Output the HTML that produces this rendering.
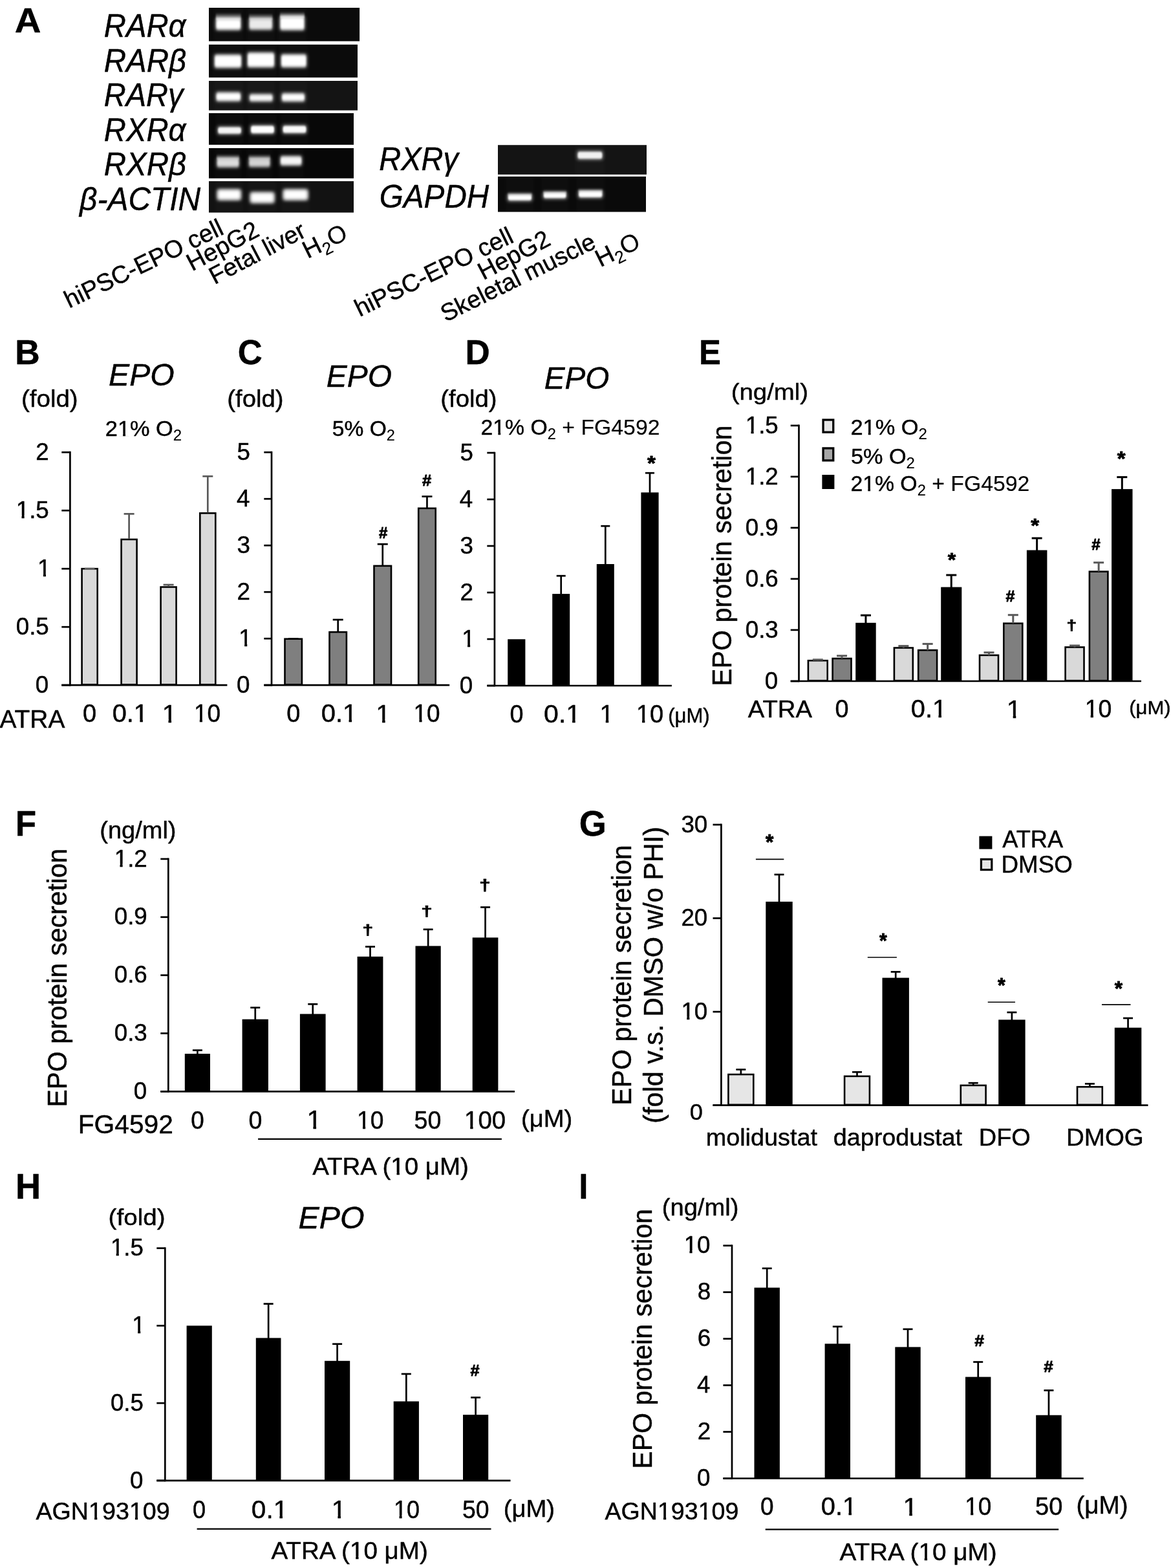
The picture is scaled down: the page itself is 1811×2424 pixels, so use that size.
<!DOCTYPE html>
<html lang="en">
<head>
<meta charset="utf-8">
<title>Figure</title>
<style>
html,body{margin:0;padding:0;background:#fff;}
body{width:1811px;height:2424px;overflow:hidden;}
svg{display:block;font-family:"Liberation Sans", sans-serif;}
text{white-space:pre;stroke:#000;stroke-width:0.45px;vector-effect:non-scaling-stroke;stroke-linejoin:round;}
</style>
</head>
<body>
<svg width="1811" height="2424" viewBox="0 0 1811 2424">
<defs>
<filter id="b1" x="-30%" y="-60%" width="160%" height="220%"><feGaussianBlur stdDeviation="1.7 1.9"/></filter>
<filter id="b2" x="-30%" y="-60%" width="160%" height="220%"><feGaussianBlur stdDeviation="1.2 1.4"/></filter>
<filter id="b3" x="-30%" y="-80%" width="160%" height="260%"><feGaussianBlur stdDeviation="2.8"/></filter>
<filter id="b4" x="-30%" y="-80%" width="160%" height="260%"><feGaussianBlur stdDeviation="2.6 2.9"/></filter>
<linearGradient id="sm" x1="0" y1="0" x2="0" y2="1"><stop offset="0" stop-color="#fff" stop-opacity="0"/><stop offset="0.55" stop-color="#fff" stop-opacity="0.55"/><stop offset="1" stop-color="#fff" stop-opacity="1"/></linearGradient>
</defs>
<rect width="1811" height="2424" fill="#fff"/>
<clipPath id="g1"><rect x="323" y="12" width="233.10" height="51.70"/></clipPath>
<rect x="323.00" y="12.00" width="233.10" height="51.70" fill="#0b0b0b"/>
<g clip-path="url(#g1)">
<rect x="330.2" y="12.0" width="46.0" height="51.7" fill="#fff" opacity="0.02" filter="url(#b3)"/>
<rect x="333.7" y="19.5" width="39.0" height="12.0" rx="2" fill="url(#sm)" opacity="0.85" filter="url(#b2)"/>
<rect x="332.7" y="27.5" width="41.0" height="20.0" rx="4" fill="#fff" opacity="0.45" filter="url(#b3)"/>
<rect x="334.4" y="29.7" width="37.6" height="15.6" rx="3.5" fill="#fff" opacity="1.00" filter="url(#b1)"/>
<rect x="381.5" y="12.0" width="43.5" height="51.7" fill="#fff" opacity="0.02" filter="url(#b3)"/>
<rect x="385.0" y="20.5" width="36.5" height="11.0" rx="2" fill="url(#sm)" opacity="0.73" filter="url(#b2)"/>
<rect x="384.0" y="27.5" width="38.5" height="19.8" rx="4" fill="#fff" opacity="0.39" filter="url(#b3)"/>
<rect x="385.7" y="29.7" width="35.1" height="15.4" rx="3.5" fill="#fff" opacity="0.86" filter="url(#b1)"/>
<rect x="429.4" y="12.0" width="45.1" height="51.7" fill="#fff" opacity="0.02" filter="url(#b3)"/>
<rect x="432.9" y="18.0" width="38.1" height="10.5" rx="2" fill="url(#sm)" opacity="0.85" filter="url(#b2)"/>
<rect x="431.9" y="24.5" width="40.1" height="23.3" rx="4" fill="#fff" opacity="0.45" filter="url(#b3)"/>
<rect x="433.6" y="26.7" width="36.7" height="18.9" rx="3.5" fill="#fff" opacity="1.00" filter="url(#b1)"/>
</g>
<clipPath id="g2"><rect x="323" y="68.9" width="230.00" height="50.90"/></clipPath>
<rect x="323.00" y="68.90" width="230.00" height="50.90" fill="#0b0b0b"/>
<g clip-path="url(#g2)">
<rect x="328.0" y="68.9" width="49.0" height="50.9" fill="#fff" opacity="0.02" filter="url(#b3)"/>
<rect x="330.5" y="83.3" width="44.0" height="22.7" rx="4" fill="#fff" opacity="0.45" filter="url(#b3)"/>
<rect x="332.2" y="85.5" width="40.6" height="18.3" rx="3.5" fill="#fff" opacity="1.00" filter="url(#b1)"/>
<rect x="379.0" y="68.9" width="49.0" height="50.9" fill="#fff" opacity="0.02" filter="url(#b3)"/>
<rect x="381.5" y="80.0" width="44.0" height="25.2" rx="4" fill="#fff" opacity="0.45" filter="url(#b3)"/>
<rect x="383.2" y="82.2" width="40.6" height="20.8" rx="3.5" fill="#fff" opacity="1.00" filter="url(#b1)"/>
<rect x="431.0" y="68.9" width="46.6" height="50.9" fill="#fff" opacity="0.02" filter="url(#b3)"/>
<rect x="433.5" y="82.8" width="41.6" height="22.4" rx="4" fill="#fff" opacity="0.45" filter="url(#b3)"/>
<rect x="435.2" y="85.0" width="38.2" height="18.0" rx="3.5" fill="#fff" opacity="1.00" filter="url(#b1)"/>
</g>
<clipPath id="g3"><rect x="323" y="125" width="230.00" height="45.60"/></clipPath>
<rect x="323.00" y="125.00" width="230.00" height="45.60" fill="#141414"/>
<g clip-path="url(#g3)">
<rect x="330.5" y="125.0" width="45.5" height="45.6" fill="#fff" opacity="0.02" filter="url(#b3)"/>
<rect x="333.0" y="141.5" width="40.5" height="16.0" rx="4" fill="#fff" opacity="0.45" filter="url(#b3)"/>
<rect x="334.7" y="143.7" width="37.1" height="11.6" rx="3.5" fill="#fff" opacity="1.00" filter="url(#b1)"/>
<rect x="382.0" y="125.0" width="43.6" height="45.6" fill="#fff" opacity="0.02" filter="url(#b3)"/>
<rect x="384.5" y="144.2" width="38.6" height="13.8" rx="4" fill="#fff" opacity="0.43" filter="url(#b3)"/>
<rect x="386.2" y="146.4" width="35.2" height="9.4" rx="3.5" fill="#fff" opacity="0.95" filter="url(#b1)"/>
<rect x="432.0" y="125.0" width="43.0" height="45.6" fill="#fff" opacity="0.02" filter="url(#b3)"/>
<rect x="434.5" y="143.0" width="38.0" height="15.0" rx="4" fill="#fff" opacity="0.45" filter="url(#b3)"/>
<rect x="436.2" y="145.2" width="34.6" height="10.6" rx="3.5" fill="#fff" opacity="1.00" filter="url(#b1)"/>
</g>
<clipPath id="g4"><rect x="323" y="174.9" width="224.00" height="48.90"/></clipPath>
<rect x="323.00" y="174.90" width="224.00" height="48.90" fill="#080808"/>
<g clip-path="url(#g4)">
<rect x="333.0" y="174.9" width="44.0" height="48.9" fill="#fff" opacity="0.02" filter="url(#b3)"/>
<rect x="335.5" y="194.5" width="39.0" height="14.3" rx="4" fill="#fff" opacity="0.42" filter="url(#b3)"/>
<rect x="337.2" y="196.7" width="35.6" height="9.9" rx="3.5" fill="#fff" opacity="0.93" filter="url(#b2)"/>
<rect x="384.0" y="174.9" width="44.0" height="48.9" fill="#fff" opacity="0.02" filter="url(#b3)"/>
<rect x="386.5" y="192.5" width="39.0" height="15.5" rx="4" fill="#fff" opacity="0.45" filter="url(#b3)"/>
<rect x="388.2" y="194.7" width="35.6" height="11.1" rx="3.5" fill="#fff" opacity="1.00" filter="url(#b2)"/>
<rect x="433.5" y="174.9" width="44.1" height="48.9" fill="#fff" opacity="0.02" filter="url(#b3)"/>
<rect x="436.0" y="192.5" width="39.1" height="15.0" rx="4" fill="#fff" opacity="0.44" filter="url(#b3)"/>
<rect x="437.7" y="194.7" width="35.7" height="10.6" rx="3.5" fill="#fff" opacity="0.97" filter="url(#b2)"/>
</g>
<clipPath id="g5"><rect x="323" y="229" width="224.00" height="46.70"/></clipPath>
<rect x="323.00" y="229.00" width="224.00" height="46.70" fill="#070707"/>
<g clip-path="url(#g5)">
<rect x="331.5" y="229.0" width="42.1" height="46.7" fill="#fff" opacity="0.02" filter="url(#b3)"/>
<rect x="335.0" y="238.0" width="35.1" height="9.2" rx="2" fill="url(#sm)" opacity="0.66" filter="url(#b2)"/>
<rect x="334.0" y="243.2" width="37.1" height="16.8" rx="4" fill="#fff" opacity="0.35" filter="url(#b3)"/>
<rect x="335.7" y="245.4" width="33.7" height="12.4" rx="3.5" fill="#fff" opacity="0.78" filter="url(#b1)"/>
<rect x="381.0" y="229.0" width="40.6" height="46.7" fill="#fff" opacity="0.02" filter="url(#b3)"/>
<rect x="384.5" y="238.0" width="33.6" height="9.2" rx="2" fill="url(#sm)" opacity="0.63" filter="url(#b2)"/>
<rect x="383.5" y="243.2" width="35.6" height="16.2" rx="4" fill="#fff" opacity="0.33" filter="url(#b3)"/>
<rect x="385.2" y="245.4" width="32.2" height="11.8" rx="3.5" fill="#fff" opacity="0.74" filter="url(#b1)"/>
<rect x="429.8" y="229.0" width="40.6" height="46.7" fill="#fff" opacity="0.02" filter="url(#b3)"/>
<rect x="432.3" y="240.0" width="35.6" height="17.0" rx="4" fill="#fff" opacity="0.42" filter="url(#b3)"/>
<rect x="434.0" y="242.2" width="32.2" height="12.6" rx="3.5" fill="#fff" opacity="0.93" filter="url(#b1)"/>
</g>
<clipPath id="g6"><rect x="323" y="280.1" width="224.00" height="48.50"/></clipPath>
<rect x="323.00" y="280.10" width="224.00" height="48.50" fill="#121212"/>
<g clip-path="url(#g6)">
<rect x="332.5" y="280.1" width="43.5" height="48.5" fill="#fff" opacity="0.02" filter="url(#b3)"/>
<rect x="335.0" y="291.5" width="38.5" height="19.0" rx="4" fill="#fff" opacity="0.45" filter="url(#b3)"/>
<rect x="336.7" y="293.7" width="35.1" height="14.6" rx="3.5" fill="#fff" opacity="1.00" filter="url(#b4)"/>
<rect x="383.5" y="280.1" width="44.2" height="48.5" fill="#fff" opacity="0.02" filter="url(#b3)"/>
<rect x="386.0" y="296.0" width="39.2" height="19.0" rx="4" fill="#fff" opacity="0.45" filter="url(#b3)"/>
<rect x="387.7" y="298.2" width="35.8" height="14.6" rx="3.5" fill="#fff" opacity="1.00" filter="url(#b4)"/>
<rect x="434.5" y="280.1" width="45.1" height="48.5" fill="#fff" opacity="0.02" filter="url(#b3)"/>
<rect x="437.0" y="291.5" width="40.1" height="19.0" rx="4" fill="#fff" opacity="0.45" filter="url(#b3)"/>
<rect x="438.7" y="293.7" width="36.7" height="14.6" rx="3.5" fill="#fff" opacity="1.00" filter="url(#b4)"/>
</g>
<clipPath id="g7"><rect x="770" y="224.2" width="230.00" height="45.60"/></clipPath>
<rect x="770.00" y="224.20" width="230.00" height="45.60" fill="#141414"/>
<g clip-path="url(#g7)">
<rect x="889.3" y="224.2" width="46.2" height="45.6" fill="#fff" opacity="0.02" filter="url(#b3)"/>
<rect x="891.8" y="232.5" width="41.2" height="15.0" rx="4" fill="#fff" opacity="0.41" filter="url(#b3)"/>
<rect x="893.5" y="234.7" width="37.8" height="10.6" rx="3.5" fill="#fff" opacity="0.90" filter="url(#b2)"/>
</g>
<clipPath id="g8"><rect x="770" y="272.9" width="229.00" height="54.70"/></clipPath>
<rect x="770.00" y="272.90" width="229.00" height="54.70" fill="#0a0a0a"/>
<g clip-path="url(#g8)">
<rect x="781.6" y="272.9" width="44.6" height="54.7" fill="#fff" opacity="0.02" filter="url(#b3)"/>
<rect x="785.1" y="297.0" width="37.6" height="6.5" rx="2" fill="url(#sm)" opacity="0.85" filter="url(#b2)"/>
<rect x="784.1" y="299.5" width="39.6" height="12.3" rx="4" fill="#fff" opacity="0.45" filter="url(#b3)"/>
<rect x="785.8" y="301.7" width="36.2" height="7.9" rx="3.5" fill="#fff" opacity="1.00" filter="url(#b2)"/>
<rect x="836.6" y="272.9" width="43.1" height="54.7" fill="#fff" opacity="0.02" filter="url(#b3)"/>
<rect x="840.1" y="294.0" width="36.1" height="6.2" rx="2" fill="url(#sm)" opacity="0.85" filter="url(#b2)"/>
<rect x="839.1" y="296.2" width="38.1" height="12.0" rx="4" fill="#fff" opacity="0.45" filter="url(#b3)"/>
<rect x="840.8" y="298.4" width="34.7" height="7.6" rx="3.5" fill="#fff" opacity="1.00" filter="url(#b2)"/>
<rect x="890.9" y="272.9" width="44.6" height="54.7" fill="#fff" opacity="0.02" filter="url(#b3)"/>
<rect x="894.4" y="291.5" width="37.6" height="6.5" rx="2" fill="url(#sm)" opacity="0.85" filter="url(#b2)"/>
<rect x="893.4" y="294.0" width="39.6" height="13.0" rx="4" fill="#fff" opacity="0.45" filter="url(#b3)"/>
<rect x="895.1" y="296.2" width="36.2" height="8.6" rx="3.5" fill="#fff" opacity="1.00" filter="url(#b2)"/>
</g>
<line x1="108.40" y1="697.85" x2="108.40" y2="1060.45" stroke="#000" stroke-width="2.7"/>
<line x1="95.30" y1="1059.10" x2="351.40" y2="1059.10" stroke="#000" stroke-width="2.7"/>
<line x1="95.30" y1="699.20" x2="108.40" y2="699.20" stroke="#000" stroke-width="2.7"/>
<line x1="95.30" y1="789.20" x2="108.40" y2="789.20" stroke="#000" stroke-width="2.7"/>
<line x1="95.30" y1="879.20" x2="108.40" y2="879.20" stroke="#000" stroke-width="2.7"/>
<line x1="95.30" y1="969.20" x2="108.40" y2="969.20" stroke="#000" stroke-width="2.7"/>
<line x1="95.30" y1="1059.10" x2="108.40" y2="1059.10" stroke="#000" stroke-width="2.7"/>
<rect x="126.60" y="879.20" width="24.10" height="179.10" fill="#d9d9d9" stroke="#000" stroke-width="2.6"/>
<line x1="130.85" y1="878.90" x2="146.45" y2="878.90" stroke="#595959" stroke-width="2.4"/>
<rect x="187.60" y="833.90" width="24.00" height="224.40" fill="#d9d9d9" stroke="#000" stroke-width="2.6"/>
<line x1="199.60" y1="833.10" x2="199.60" y2="794.40" stroke="#595959" stroke-width="2.7"/>
<line x1="191.60" y1="794.40" x2="207.60" y2="794.40" stroke="#595959" stroke-width="2.7"/>
<rect x="248.60" y="907.50" width="24.00" height="150.80" fill="#d9d9d9" stroke="#000" stroke-width="2.6"/>
<line x1="260.60" y1="906.70" x2="260.60" y2="904.00" stroke="#595959" stroke-width="2.7"/>
<line x1="252.60" y1="904.00" x2="268.60" y2="904.00" stroke="#595959" stroke-width="2.7"/>
<rect x="309.30" y="793.30" width="24.00" height="265.00" fill="#d9d9d9" stroke="#000" stroke-width="2.6"/>
<line x1="321.30" y1="792.50" x2="321.30" y2="736.30" stroke="#595959" stroke-width="2.7"/>
<line x1="313.30" y1="736.30" x2="329.30" y2="736.30" stroke="#595959" stroke-width="2.7"/>
<line x1="420.00" y1="697.85" x2="420.00" y2="1060.45" stroke="#000" stroke-width="2.7"/>
<line x1="408.30" y1="1059.10" x2="695.20" y2="1059.10" stroke="#000" stroke-width="2.7"/>
<line x1="408.30" y1="699.20" x2="420.00" y2="699.20" stroke="#000" stroke-width="2.7"/>
<line x1="408.30" y1="771.20" x2="420.00" y2="771.20" stroke="#000" stroke-width="2.7"/>
<line x1="408.30" y1="843.20" x2="420.00" y2="843.20" stroke="#000" stroke-width="2.7"/>
<line x1="408.30" y1="915.20" x2="420.00" y2="915.20" stroke="#000" stroke-width="2.7"/>
<line x1="408.30" y1="987.20" x2="420.00" y2="987.20" stroke="#000" stroke-width="2.7"/>
<line x1="408.30" y1="1059.10" x2="420.00" y2="1059.10" stroke="#000" stroke-width="2.7"/>
<rect x="440.50" y="987.70" width="26.40" height="70.60" fill="#7f7f7f" stroke="#000" stroke-width="2.6"/>
<line x1="445.90" y1="987.40" x2="461.50" y2="987.40" stroke="#000" stroke-width="2.2"/>
<rect x="509.50" y="977.10" width="26.40" height="81.20" fill="#7f7f7f" stroke="#000" stroke-width="2.6"/>
<line x1="522.70" y1="976.30" x2="522.70" y2="958.00" stroke="#000" stroke-width="2.7"/>
<line x1="514.70" y1="958.00" x2="530.70" y2="958.00" stroke="#000" stroke-width="2.7"/>
<rect x="578.50" y="874.80" width="26.50" height="183.50" fill="#7f7f7f" stroke="#000" stroke-width="2.6"/>
<line x1="591.75" y1="874.00" x2="591.75" y2="841.20" stroke="#000" stroke-width="2.7"/>
<line x1="583.75" y1="841.20" x2="599.75" y2="841.20" stroke="#000" stroke-width="2.7"/>
<rect x="647.20" y="785.80" width="26.50" height="272.50" fill="#7f7f7f" stroke="#000" stroke-width="2.6"/>
<line x1="660.45" y1="785.00" x2="660.45" y2="767.50" stroke="#000" stroke-width="2.7"/>
<line x1="652.45" y1="767.50" x2="668.45" y2="767.50" stroke="#000" stroke-width="2.7"/>
<line x1="764.90" y1="698.65" x2="764.90" y2="1061.35" stroke="#000" stroke-width="2.7"/>
<line x1="753.30" y1="1060.00" x2="1038.90" y2="1060.00" stroke="#000" stroke-width="2.7"/>
<line x1="753.30" y1="700.00" x2="764.90" y2="700.00" stroke="#000" stroke-width="2.7"/>
<line x1="753.30" y1="772.00" x2="764.90" y2="772.00" stroke="#000" stroke-width="2.7"/>
<line x1="753.30" y1="844.00" x2="764.90" y2="844.00" stroke="#000" stroke-width="2.7"/>
<line x1="753.30" y1="916.00" x2="764.90" y2="916.00" stroke="#000" stroke-width="2.7"/>
<line x1="753.30" y1="988.00" x2="764.90" y2="988.00" stroke="#000" stroke-width="2.7"/>
<line x1="753.30" y1="1060.00" x2="764.90" y2="1060.00" stroke="#000" stroke-width="2.7"/>
<rect x="785.20" y="988.20" width="27.20" height="71.80" fill="#000"/>
<rect x="854.20" y="918.10" width="27.00" height="141.90" fill="#000"/>
<line x1="867.70" y1="918.60" x2="867.70" y2="890.20" stroke="#000" stroke-width="2.7"/>
<line x1="860.70" y1="890.20" x2="874.70" y2="890.20" stroke="#000" stroke-width="2.7"/>
<rect x="922.80" y="872.00" width="27.00" height="188.00" fill="#000"/>
<line x1="936.30" y1="872.50" x2="936.30" y2="813.20" stroke="#000" stroke-width="2.7"/>
<line x1="929.30" y1="813.20" x2="943.30" y2="813.20" stroke="#000" stroke-width="2.7"/>
<rect x="991.40" y="761.30" width="27.20" height="298.70" fill="#000"/>
<line x1="1005.00" y1="761.80" x2="1005.00" y2="731.20" stroke="#000" stroke-width="2.7"/>
<line x1="998.00" y1="731.20" x2="1012.00" y2="731.20" stroke="#000" stroke-width="2.7"/>
<line x1="1235.50" y1="656.55" x2="1235.50" y2="1054.35" stroke="#000" stroke-width="2.7"/>
<line x1="1222.70" y1="1053.00" x2="1765.00" y2="1053.00" stroke="#000" stroke-width="2.7"/>
<line x1="1222.70" y1="657.90" x2="1235.50" y2="657.90" stroke="#000" stroke-width="2.7"/>
<line x1="1222.70" y1="736.90" x2="1235.50" y2="736.90" stroke="#000" stroke-width="2.7"/>
<line x1="1222.70" y1="815.90" x2="1235.50" y2="815.90" stroke="#000" stroke-width="2.7"/>
<line x1="1222.70" y1="894.90" x2="1235.50" y2="894.90" stroke="#000" stroke-width="2.7"/>
<line x1="1222.70" y1="973.90" x2="1235.50" y2="973.90" stroke="#000" stroke-width="2.7"/>
<line x1="1222.70" y1="1053.00" x2="1235.50" y2="1053.00" stroke="#000" stroke-width="2.7"/>
<rect x="1249.90" y="1021.20" width="29.80" height="31.00" fill="#d9d9d9" stroke="#000" stroke-width="2.6"/>
<line x1="1264.80" y1="1021.20" x2="1264.80" y2="1019.80" stroke="#595959" stroke-width="3.0"/>
<line x1="1256.80" y1="1019.80" x2="1272.80" y2="1019.80" stroke="#595959" stroke-width="3.0"/>
<rect x="1287.60" y="1018.00" width="28.90" height="34.20" fill="#7f7f7f" stroke="#000" stroke-width="2.6"/>
<line x1="1302.05" y1="1018.00" x2="1302.05" y2="1013.80" stroke="#595959" stroke-width="3.0"/>
<line x1="1294.05" y1="1013.80" x2="1310.05" y2="1013.80" stroke="#595959" stroke-width="3.0"/>
<rect x="1323.20" y="962.80" width="31.50" height="90.20" fill="#000"/>
<line x1="1338.95" y1="964.10" x2="1338.95" y2="951.20" stroke="#000" stroke-width="3.0"/>
<line x1="1330.95" y1="951.20" x2="1346.95" y2="951.20" stroke="#000" stroke-width="3.0"/>
<rect x="1382.90" y="1001.50" width="28.90" height="50.70" fill="#d9d9d9" stroke="#000" stroke-width="2.6"/>
<line x1="1397.35" y1="1001.50" x2="1397.35" y2="998.60" stroke="#595959" stroke-width="3.0"/>
<line x1="1389.35" y1="998.60" x2="1405.35" y2="998.60" stroke="#595959" stroke-width="3.0"/>
<rect x="1420.20" y="1005.10" width="28.90" height="47.10" fill="#7f7f7f" stroke="#000" stroke-width="2.6"/>
<line x1="1434.65" y1="1005.10" x2="1434.65" y2="995.40" stroke="#595959" stroke-width="3.0"/>
<line x1="1426.65" y1="995.40" x2="1442.65" y2="995.40" stroke="#595959" stroke-width="3.0"/>
<rect x="1455.20" y="907.60" width="32.10" height="145.40" fill="#000"/>
<line x1="1471.25" y1="908.90" x2="1471.25" y2="889.00" stroke="#000" stroke-width="3.0"/>
<line x1="1463.25" y1="889.00" x2="1479.25" y2="889.00" stroke="#000" stroke-width="3.0"/>
<rect x="1515.00" y="1012.90" width="29.00" height="39.30" fill="#d9d9d9" stroke="#000" stroke-width="2.6"/>
<line x1="1529.50" y1="1012.90" x2="1529.50" y2="1008.70" stroke="#595959" stroke-width="3.0"/>
<line x1="1521.50" y1="1008.70" x2="1537.50" y2="1008.70" stroke="#595959" stroke-width="3.0"/>
<rect x="1552.30" y="963.70" width="29.00" height="88.50" fill="#7f7f7f" stroke="#000" stroke-width="2.6"/>
<line x1="1566.80" y1="963.70" x2="1566.80" y2="950.70" stroke="#595959" stroke-width="3.0"/>
<line x1="1558.80" y1="950.70" x2="1574.80" y2="950.70" stroke="#595959" stroke-width="3.0"/>
<rect x="1587.90" y="850.50" width="31.50" height="202.50" fill="#000"/>
<line x1="1603.65" y1="851.80" x2="1603.65" y2="832.00" stroke="#000" stroke-width="3.0"/>
<line x1="1595.65" y1="832.00" x2="1611.65" y2="832.00" stroke="#000" stroke-width="3.0"/>
<rect x="1647.60" y="1000.50" width="28.90" height="51.70" fill="#d9d9d9" stroke="#000" stroke-width="2.6"/>
<line x1="1662.05" y1="1000.50" x2="1662.05" y2="998.00" stroke="#595959" stroke-width="3.0"/>
<line x1="1654.05" y1="998.00" x2="1670.05" y2="998.00" stroke="#595959" stroke-width="3.0"/>
<rect x="1684.90" y="883.60" width="28.50" height="168.60" fill="#7f7f7f" stroke="#000" stroke-width="2.6"/>
<line x1="1699.15" y1="883.60" x2="1699.15" y2="869.70" stroke="#595959" stroke-width="3.0"/>
<line x1="1691.15" y1="869.70" x2="1707.15" y2="869.70" stroke="#595959" stroke-width="3.0"/>
<rect x="1719.10" y="756.10" width="32.40" height="296.90" fill="#000"/>
<line x1="1735.30" y1="757.40" x2="1735.30" y2="737.60" stroke="#000" stroke-width="3.0"/>
<line x1="1727.30" y1="737.60" x2="1743.30" y2="737.60" stroke="#000" stroke-width="3.0"/>
<rect x="1273.05" y="649.05" width="15.70" height="19.10" fill="#e6e6e6" stroke="#000" stroke-width="3.3"/>
<rect x="1273.05" y="692.95" width="15.70" height="18.90" fill="#a6a6a6" stroke="#000" stroke-width="3.3"/>
<rect x="1271.40" y="734.00" width="19.00" height="22.00" fill="#000"/>
<line x1="260.30" y1="1326.55" x2="260.30" y2="1688.65" stroke="#000" stroke-width="2.7"/>
<line x1="248.30" y1="1687.30" x2="796.00" y2="1687.30" stroke="#000" stroke-width="2.7"/>
<line x1="248.30" y1="1327.90" x2="260.30" y2="1327.90" stroke="#000" stroke-width="2.7"/>
<line x1="248.30" y1="1417.75" x2="260.30" y2="1417.75" stroke="#000" stroke-width="2.7"/>
<line x1="248.30" y1="1507.60" x2="260.30" y2="1507.60" stroke="#000" stroke-width="2.7"/>
<line x1="248.30" y1="1597.45" x2="260.30" y2="1597.45" stroke="#000" stroke-width="2.7"/>
<line x1="248.30" y1="1687.30" x2="260.30" y2="1687.30" stroke="#000" stroke-width="2.7"/>
<rect x="285.80" y="1629.00" width="39.20" height="58.30" fill="#000"/>
<line x1="305.40" y1="1629.50" x2="305.40" y2="1623.60" stroke="#000" stroke-width="2.7"/>
<line x1="297.90" y1="1623.60" x2="312.90" y2="1623.60" stroke="#000" stroke-width="2.7"/>
<rect x="374.60" y="1575.70" width="40.30" height="111.60" fill="#000"/>
<line x1="394.75" y1="1576.20" x2="394.75" y2="1557.70" stroke="#000" stroke-width="2.7"/>
<line x1="387.25" y1="1557.70" x2="402.25" y2="1557.70" stroke="#000" stroke-width="2.7"/>
<rect x="463.90" y="1567.50" width="39.70" height="119.80" fill="#000"/>
<line x1="483.75" y1="1568.00" x2="483.75" y2="1552.30" stroke="#000" stroke-width="2.7"/>
<line x1="476.25" y1="1552.30" x2="491.25" y2="1552.30" stroke="#000" stroke-width="2.7"/>
<rect x="552.60" y="1478.80" width="39.80" height="208.50" fill="#000"/>
<line x1="572.50" y1="1479.30" x2="572.50" y2="1463.50" stroke="#000" stroke-width="2.7"/>
<line x1="565.00" y1="1463.50" x2="580.00" y2="1463.50" stroke="#000" stroke-width="2.7"/>
<rect x="642.50" y="1462.40" width="39.20" height="224.90" fill="#000"/>
<line x1="662.10" y1="1462.90" x2="662.10" y2="1436.80" stroke="#000" stroke-width="2.7"/>
<line x1="654.60" y1="1436.80" x2="669.60" y2="1436.80" stroke="#000" stroke-width="2.7"/>
<rect x="730.70" y="1449.40" width="39.70" height="237.90" fill="#000"/>
<line x1="750.55" y1="1449.90" x2="750.55" y2="1402.50" stroke="#000" stroke-width="2.7"/>
<line x1="743.05" y1="1402.50" x2="758.05" y2="1402.50" stroke="#000" stroke-width="2.7"/>
<line x1="399.10" y1="1760.80" x2="775.90" y2="1760.80" stroke="#000" stroke-width="2.2"/>
<line x1="1115.40" y1="1273.55" x2="1115.40" y2="1709.95" stroke="#000" stroke-width="2.7"/>
<line x1="1102.50" y1="1708.60" x2="1775.50" y2="1708.60" stroke="#000" stroke-width="2.7"/>
<line x1="1102.50" y1="1274.90" x2="1115.40" y2="1274.90" stroke="#000" stroke-width="2.7"/>
<line x1="1102.50" y1="1419.50" x2="1115.40" y2="1419.50" stroke="#000" stroke-width="2.7"/>
<line x1="1102.50" y1="1564.10" x2="1115.40" y2="1564.10" stroke="#000" stroke-width="2.7"/>
<line x1="1102.50" y1="1708.60" x2="1115.40" y2="1708.60" stroke="#000" stroke-width="2.7"/>
<rect x="1126.40" y="1661.00" width="38.90" height="46.80" fill="#e6e6e6" stroke="#000" stroke-width="2.6"/>
<line x1="1145.85" y1="1661.20" x2="1145.85" y2="1653.40" stroke="#000" stroke-width="2.7"/>
<line x1="1138.35" y1="1653.40" x2="1153.35" y2="1653.40" stroke="#000" stroke-width="2.7"/>
<rect x="1184.30" y="1393.90" width="41.40" height="314.70" fill="#000"/>
<line x1="1205.00" y1="1395.40" x2="1205.00" y2="1352.00" stroke="#000" stroke-width="2.7"/>
<line x1="1197.50" y1="1352.00" x2="1212.50" y2="1352.00" stroke="#000" stroke-width="2.7"/>
<rect x="1306.10" y="1663.80" width="38.80" height="44.00" fill="#e6e6e6" stroke="#000" stroke-width="2.6"/>
<line x1="1325.50" y1="1664.00" x2="1325.50" y2="1657.30" stroke="#000" stroke-width="2.7"/>
<line x1="1318.00" y1="1657.30" x2="1333.00" y2="1657.30" stroke="#000" stroke-width="2.7"/>
<rect x="1364.50" y="1511.60" width="41.40" height="197.00" fill="#000"/>
<line x1="1385.20" y1="1513.10" x2="1385.20" y2="1502.40" stroke="#000" stroke-width="2.7"/>
<line x1="1377.70" y1="1502.40" x2="1392.70" y2="1502.40" stroke="#000" stroke-width="2.7"/>
<rect x="1485.80" y="1677.90" width="38.80" height="29.90" fill="#e6e6e6" stroke="#000" stroke-width="2.6"/>
<line x1="1505.20" y1="1678.10" x2="1505.20" y2="1674.20" stroke="#000" stroke-width="2.7"/>
<line x1="1497.70" y1="1674.20" x2="1512.70" y2="1674.20" stroke="#000" stroke-width="2.7"/>
<rect x="1544.20" y="1576.40" width="41.40" height="132.20" fill="#000"/>
<line x1="1564.90" y1="1577.90" x2="1564.90" y2="1565.00" stroke="#000" stroke-width="2.7"/>
<line x1="1557.40" y1="1565.00" x2="1572.40" y2="1565.00" stroke="#000" stroke-width="2.7"/>
<rect x="1666.00" y="1680.20" width="38.80" height="27.60" fill="#e6e6e6" stroke="#000" stroke-width="2.6"/>
<line x1="1685.40" y1="1680.40" x2="1685.40" y2="1675.40" stroke="#000" stroke-width="2.7"/>
<line x1="1677.90" y1="1675.40" x2="1692.90" y2="1675.40" stroke="#000" stroke-width="2.7"/>
<rect x="1723.80" y="1588.70" width="41.50" height="119.90" fill="#000"/>
<line x1="1744.55" y1="1590.20" x2="1744.55" y2="1574.00" stroke="#000" stroke-width="2.7"/>
<line x1="1737.05" y1="1574.00" x2="1752.05" y2="1574.00" stroke="#000" stroke-width="2.7"/>
<line x1="1168.90" y1="1328.40" x2="1212.30" y2="1328.40" stroke="#000" stroke-width="1.6"/>
<line x1="1341.80" y1="1480.00" x2="1386.90" y2="1480.00" stroke="#000" stroke-width="1.6"/>
<line x1="1527.70" y1="1549.20" x2="1570.00" y2="1549.20" stroke="#000" stroke-width="1.6"/>
<line x1="1704.00" y1="1553.10" x2="1748.50" y2="1553.10" stroke="#000" stroke-width="1.6"/>
<rect x="1514.40" y="1292.60" width="20.00" height="20.00" fill="#000"/>
<rect x="1517.40" y="1328.40" width="16.40" height="16.20" fill="#e6e6e6" stroke="#000" stroke-width="3.2"/>
<line x1="255.30" y1="1928.25" x2="255.30" y2="2290.25" stroke="#000" stroke-width="2.7"/>
<line x1="242.30" y1="2288.90" x2="789.50" y2="2288.90" stroke="#000" stroke-width="2.7"/>
<line x1="242.30" y1="1929.60" x2="255.30" y2="1929.60" stroke="#000" stroke-width="2.7"/>
<line x1="242.30" y1="2049.40" x2="255.30" y2="2049.40" stroke="#000" stroke-width="2.7"/>
<line x1="242.30" y1="2169.10" x2="255.30" y2="2169.10" stroke="#000" stroke-width="2.7"/>
<line x1="242.30" y1="2288.90" x2="255.30" y2="2288.90" stroke="#000" stroke-width="2.7"/>
<rect x="288.60" y="2049.40" width="39.20" height="239.50" fill="#000"/>
<rect x="395.80" y="2068.40" width="38.70" height="220.50" fill="#000"/>
<line x1="415.15" y1="2068.90" x2="415.15" y2="2015.60" stroke="#000" stroke-width="2.7"/>
<line x1="407.65" y1="2015.60" x2="422.65" y2="2015.60" stroke="#000" stroke-width="2.7"/>
<rect x="502.00" y="2103.80" width="39.20" height="185.10" fill="#000"/>
<line x1="521.60" y1="2104.30" x2="521.60" y2="2077.70" stroke="#000" stroke-width="2.7"/>
<line x1="514.10" y1="2077.70" x2="529.10" y2="2077.70" stroke="#000" stroke-width="2.7"/>
<rect x="608.70" y="2166.40" width="39.20" height="122.50" fill="#000"/>
<line x1="628.30" y1="2166.90" x2="628.30" y2="2124.00" stroke="#000" stroke-width="2.7"/>
<line x1="620.80" y1="2124.00" x2="635.80" y2="2124.00" stroke="#000" stroke-width="2.7"/>
<rect x="716.00" y="2187.10" width="39.20" height="101.80" fill="#000"/>
<line x1="735.60" y1="2187.60" x2="735.60" y2="2160.40" stroke="#000" stroke-width="2.7"/>
<line x1="728.10" y1="2160.40" x2="743.10" y2="2160.40" stroke="#000" stroke-width="2.7"/>
<line x1="304.60" y1="2363.60" x2="759.50" y2="2363.60" stroke="#000" stroke-width="2.3"/>
<line x1="1132.00" y1="1924.25" x2="1132.00" y2="2286.85" stroke="#000" stroke-width="2.7"/>
<line x1="1118.40" y1="2285.50" x2="1675.80" y2="2285.50" stroke="#000" stroke-width="2.7"/>
<line x1="1118.40" y1="1925.60" x2="1132.00" y2="1925.60" stroke="#000" stroke-width="2.7"/>
<line x1="1118.40" y1="1997.60" x2="1132.00" y2="1997.60" stroke="#000" stroke-width="2.7"/>
<line x1="1118.40" y1="2069.60" x2="1132.00" y2="2069.60" stroke="#000" stroke-width="2.7"/>
<line x1="1118.40" y1="2141.50" x2="1132.00" y2="2141.50" stroke="#000" stroke-width="2.7"/>
<line x1="1118.40" y1="2213.50" x2="1132.00" y2="2213.50" stroke="#000" stroke-width="2.7"/>
<line x1="1118.40" y1="2285.50" x2="1132.00" y2="2285.50" stroke="#000" stroke-width="2.7"/>
<rect x="1166.50" y="1990.60" width="39.40" height="294.90" fill="#000"/>
<line x1="1186.20" y1="1991.10" x2="1186.20" y2="1960.80" stroke="#000" stroke-width="2.7"/>
<line x1="1178.70" y1="1960.80" x2="1193.70" y2="1960.80" stroke="#000" stroke-width="2.7"/>
<rect x="1275.60" y="2077.30" width="39.40" height="208.20" fill="#000"/>
<line x1="1295.30" y1="2077.80" x2="1295.30" y2="2050.80" stroke="#000" stroke-width="2.7"/>
<line x1="1287.80" y1="2050.80" x2="1302.80" y2="2050.80" stroke="#000" stroke-width="2.7"/>
<rect x="1384.30" y="2082.40" width="39.40" height="203.10" fill="#000"/>
<line x1="1404.00" y1="2082.90" x2="1404.00" y2="2054.80" stroke="#000" stroke-width="2.7"/>
<line x1="1396.50" y1="2054.80" x2="1411.50" y2="2054.80" stroke="#000" stroke-width="2.7"/>
<rect x="1493.00" y="2128.60" width="39.40" height="156.90" fill="#000"/>
<line x1="1512.70" y1="2129.10" x2="1512.70" y2="2105.50" stroke="#000" stroke-width="2.7"/>
<line x1="1505.20" y1="2105.50" x2="1520.20" y2="2105.50" stroke="#000" stroke-width="2.7"/>
<rect x="1602.20" y="2187.70" width="39.50" height="97.80" fill="#000"/>
<line x1="1621.95" y1="2188.20" x2="1621.95" y2="2149.40" stroke="#000" stroke-width="2.7"/>
<line x1="1614.45" y1="2149.40" x2="1629.45" y2="2149.40" stroke="#000" stroke-width="2.7"/>
<line x1="1183.70" y1="2364.40" x2="1637.20" y2="2364.40" stroke="#000" stroke-width="2.3"/>
<text transform="matrix(0.5643 0 0 0.5305 22.72 50.00)" font-size="100" font-weight="bold">A</text>
<text transform="matrix(0.4726 0 0 0.4978 160.76 57.40)" font-size="100" font-style="italic">RARα</text>
<text transform="matrix(0.4749 0 0 0.4970 160.76 110.70)" font-size="100" font-style="italic">RARβ</text>
<text transform="matrix(0.4699 0 0 0.4978 160.77 163.60)" font-size="100" font-style="italic">RARγ</text>
<text transform="matrix(0.4726 0 0 0.4978 160.76 218.00)" font-size="100" font-style="italic">RXRα</text>
<text transform="matrix(0.4749 0 0 0.4970 160.76 271.00)" font-size="100" font-style="italic">RXRβ</text>
<text transform="matrix(0.4793 0 0 0.4970 123.10 325.00)" font-size="100" font-style="italic">β-ACTIN</text>
<text transform="matrix(0.4699 0 0 0.4978 586.27 263.00)" font-size="100" font-style="italic">RXRγ</text>
<text transform="matrix(0.4765 0 0 0.4978 586.77 321.30)" font-size="100" font-style="italic">GAPDH</text>
<text transform="matrix(0.3415 -0.1644 0.1644 0.3415 107.07 477.03)" font-size="100">hiPSC-EPO cell</text>
<text transform="matrix(0.3353 -0.1768 0.1768 0.3353 297.08 419.78)" font-size="100">HepG2</text>
<text transform="matrix(0.3322 -0.1744 0.1744 0.3322 331.70 440.16)" font-size="100">Fetal liver</text>
<text transform="matrix(0.3398 -0.1679 0.1679 0.3398 475.85 400.21)" font-size="100">H<tspan font-size="70" dy="21">2</tspan><tspan dy="-21">O</tspan></text>
<text transform="matrix(0.3409 -0.1655 0.1655 0.3409 556.17 490.23)" font-size="100">hiPSC-EPO cell</text>
<text transform="matrix(0.3353 -0.1768 0.1768 0.3353 747.58 433.58)" font-size="100">HepG2</text>
<text transform="matrix(0.3354 -0.1657 0.1657 0.3354 689.15 498.32)" font-size="100">Skeletal muscle</text>
<text transform="matrix(0.3398 -0.1679 0.1679 0.3398 928.45 413.41)" font-size="100">H<tspan font-size="70" dy="21">2</tspan><tspan dy="-21">O</tspan></text>
<text transform="matrix(0.3675 0 0 0.3605 55.35 710.85)" font-size="100">2</text>
<clipPath id="k1"><path clip-rule="evenodd" d="M-2000-2000H9000V2000H-2000ZM4.0-11.5H24.0V4H4.0ZM35.1-11.5H54.0V4H35.1Z"/></clipPath>
<text transform="matrix(0.3675 0 0 0.3605 24.70 800.85)" font-size="100" clip-path="url(#k1)">1.5</text>
<clipPath id="k2"><path clip-rule="evenodd" d="M-2000-2000H9000V2000H-2000ZM4.0-11.5H24.0V4H4.0ZM35.1-11.5H54.0V4H35.1Z"/></clipPath>
<text transform="matrix(0.3675 0 0 0.3605 58.12 890.85)" font-size="100" clip-path="url(#k2)">1</text>
<text transform="matrix(0.3675 0 0 0.3605 24.70 980.85)" font-size="100">0.5</text>
<text transform="matrix(0.3675 0 0 0.3605 54.77 1070.75)" font-size="100">0</text>
<text transform="matrix(0.5328 0 0 0.5276 23.27 562.50)" font-size="100" font-weight="bold">B</text>
<text transform="matrix(0.4810 0 0 0.4750 168.05 595.90)" font-size="100" font-style="italic">EPO</text>
<text transform="matrix(0.3849 0 0 0.3758 33.00 628.80)" font-size="100">(fold)</text>
<clipPath id="k3"><path clip-rule="evenodd" d="M-2000-2000H9000V2000H-2000ZM59.6-11.5H79.6V4H59.6ZM90.7-11.5H109.6V4H90.7Z"/></clipPath>
<text transform="matrix(0.3438 0 0 0.3342 162.79 673.50)" font-size="100" clip-path="url(#k3)">21% O<tspan font-size="70" dy="21">2</tspan></text>
<text transform="matrix(0.3799 0 0 0.3910 127.91 1116.49)" font-size="100">0</text>
<clipPath id="k4"><path clip-rule="evenodd" d="M-2000-2000H9000V2000H-2000ZM87.4-11.5H107.4V4H87.4ZM118.5-11.5H137.4V4H118.5Z"/></clipPath>
<text transform="matrix(0.3981 0 0 0.3910 173.66 1116.49)" font-size="100" clip-path="url(#k4)">0.1</text>
<clipPath id="k5"><path clip-rule="evenodd" d="M-2000-2000H9000V2000H-2000ZM4.0-11.5H24.0V4H4.0ZM35.1-11.5H54.0V4H35.1Z"/></clipPath>
<text transform="matrix(0.4068 0 0 0.3911 250.76 1116.80)" font-size="100" clip-path="url(#k5)">1</text>
<clipPath id="k6"><path clip-rule="evenodd" d="M-2000-2000H9000V2000H-2000ZM4.0-11.5H24.0V4H4.0ZM35.1-11.5H54.0V4H35.1Z"/></clipPath>
<text transform="matrix(0.3701 0 0 0.3910 299.95 1116.49)" font-size="100" clip-path="url(#k6)">10</text>
<text transform="matrix(0.3892 0 0 0.3812 -0.50 1124.90)" font-size="100">ATRA</text>
<text transform="matrix(0.3675 0 0 0.3605 366.55 710.85)" font-size="100">5</text>
<text transform="matrix(0.3675 0 0 0.3605 365.97 782.85)" font-size="100">4</text>
<text transform="matrix(0.3675 0 0 0.3605 366.55 854.85)" font-size="100">3</text>
<text transform="matrix(0.3675 0 0 0.3605 366.55 926.85)" font-size="100">2</text>
<clipPath id="k7"><path clip-rule="evenodd" d="M-2000-2000H9000V2000H-2000ZM4.0-11.5H24.0V4H4.0ZM35.1-11.5H54.0V4H35.1Z"/></clipPath>
<text transform="matrix(0.3675 0 0 0.3605 369.32 998.85)" font-size="100" clip-path="url(#k7)">1</text>
<text transform="matrix(0.3675 0 0 0.3605 365.97 1070.75)" font-size="100">0</text>
<text transform="matrix(0.5254 0 0 0.5447 367.76 562.50)" font-size="100" font-weight="bold">C</text>
<text transform="matrix(0.4791 0 0 0.4750 504.75 597.50)" font-size="100" font-style="italic">EPO</text>
<text transform="matrix(0.3826 0 0 0.3731 351.31 628.70)" font-size="100">(fold)</text>
<text transform="matrix(0.3359 0 0 0.3328 513.85 673.80)" font-size="100">5% O<tspan font-size="70" dy="21">2</tspan></text>
<text transform="matrix(0.3799 0 0 0.3910 443.31 1116.49)" font-size="100">0</text>
<clipPath id="k8"><path clip-rule="evenodd" d="M-2000-2000H9000V2000H-2000ZM87.4-11.5H107.4V4H87.4ZM118.5-11.5H137.4V4H118.5Z"/></clipPath>
<text transform="matrix(0.3999 0 0 0.3910 496.65 1116.49)" font-size="100" clip-path="url(#k8)">0.1</text>
<clipPath id="k9"><path clip-rule="evenodd" d="M-2000-2000H9000V2000H-2000ZM4.0-11.5H24.0V4H4.0ZM35.1-11.5H54.0V4H35.1Z"/></clipPath>
<text transform="matrix(0.4068 0 0 0.3911 581.36 1116.80)" font-size="100" clip-path="url(#k9)">1</text>
<clipPath id="k10"><path clip-rule="evenodd" d="M-2000-2000H9000V2000H-2000ZM4.0-11.5H24.0V4H4.0ZM35.1-11.5H54.0V4H35.1Z"/></clipPath>
<text transform="matrix(0.3691 0 0 0.3910 639.56 1116.49)" font-size="100" clip-path="url(#k10)">10</text>
<text transform="matrix(0.2390 0 0 0.2356 585.93 832.00)" font-size="100" font-weight="bold" style="stroke-width:0.9px">#</text>
<text transform="matrix(0.2541 0 0 0.2356 653.00 750.50)" font-size="100" font-weight="bold" style="stroke-width:0.9px">#</text>
<text transform="matrix(0.3675 0 0 0.3605 711.45 711.65)" font-size="100">5</text>
<text transform="matrix(0.3675 0 0 0.3605 710.87 783.65)" font-size="100">4</text>
<text transform="matrix(0.3675 0 0 0.3605 711.45 855.65)" font-size="100">3</text>
<text transform="matrix(0.3675 0 0 0.3605 711.45 927.65)" font-size="100">2</text>
<clipPath id="k11"><path clip-rule="evenodd" d="M-2000-2000H9000V2000H-2000ZM4.0-11.5H24.0V4H4.0ZM35.1-11.5H54.0V4H35.1Z"/></clipPath>
<text transform="matrix(0.3675 0 0 0.3605 714.22 999.65)" font-size="100" clip-path="url(#k11)">1</text>
<text transform="matrix(0.3675 0 0 0.3605 710.87 1071.65)" font-size="100">0</text>
<text transform="matrix(0.5296 0 0 0.5305 719.59 562.70)" font-size="100" font-weight="bold">D</text>
<text transform="matrix(0.4767 0 0 0.4793 841.76 600.80)" font-size="100" font-style="italic">EPO</text>
<text transform="matrix(0.3826 0 0 0.3731 681.31 628.70)" font-size="100">(fold)</text>
<clipPath id="k12"><path clip-rule="evenodd" d="M-2000-2000H9000V2000H-2000ZM59.6-11.5H79.6V4H59.6ZM90.7-11.5H109.6V4H90.7Z"/></clipPath>
<text transform="matrix(0.3378 0 0 0.3342 743.52 671.80)" font-size="100" clip-path="url(#k12)">21% O<tspan font-size="70" dy="21">2</tspan><tspan dy="-21"> + FG4592</tspan></text>
<text transform="matrix(0.3779 0 0 0.3854 788.52 1117.10)" font-size="100">0</text>
<clipPath id="k13"><path clip-rule="evenodd" d="M-2000-2000H9000V2000H-2000ZM87.4-11.5H107.4V4H87.4ZM118.5-11.5H137.4V4H118.5Z"/></clipPath>
<text transform="matrix(0.4095 0 0 0.3854 841.12 1117.10)" font-size="100" clip-path="url(#k13)">0.1</text>
<clipPath id="k14"><path clip-rule="evenodd" d="M-2000-2000H9000V2000H-2000ZM4.0-11.5H24.0V4H4.0ZM35.1-11.5H54.0V4H35.1Z"/></clipPath>
<text transform="matrix(0.4008 0 0 0.3854 927.16 1117.40)" font-size="100" clip-path="url(#k14)">1</text>
<clipPath id="k15"><path clip-rule="evenodd" d="M-2000-2000H9000V2000H-2000ZM4.0-11.5H24.0V4H4.0ZM35.1-11.5H54.0V4H35.1Z"/></clipPath>
<text transform="matrix(0.3801 0 0 0.3854 983.97 1117.10)" font-size="100" clip-path="url(#k15)">10</text>
<text transform="matrix(0.3111 0 0 0.3127 1033.14 1116.76)" font-size="100">(μM)</text>
<text transform="matrix(0.3328 0 0 0.3072 1001.00 726.50)" font-size="100" font-weight="bold" style="stroke-width:0.9px">*</text>
<clipPath id="k16"><path clip-rule="evenodd" d="M-2000-2000H9000V2000H-2000ZM4.0-11.5H24.0V4H4.0ZM35.1-11.5H54.0V4H35.1Z"/></clipPath>
<text transform="matrix(0.3675 0 0 0.3605 1152.70 669.55)" font-size="100" clip-path="url(#k16)">1.5</text>
<clipPath id="k17"><path clip-rule="evenodd" d="M-2000-2000H9000V2000H-2000ZM4.0-11.5H24.0V4H4.0ZM35.1-11.5H54.0V4H35.1Z"/></clipPath>
<text transform="matrix(0.3675 0 0 0.3605 1152.70 748.55)" font-size="100" clip-path="url(#k17)">1.2</text>
<text transform="matrix(0.3675 0 0 0.3605 1152.70 827.55)" font-size="100">0.9</text>
<text transform="matrix(0.3675 0 0 0.3605 1152.70 906.55)" font-size="100">0.6</text>
<text transform="matrix(0.3675 0 0 0.3605 1152.70 985.55)" font-size="100">0.3</text>
<text transform="matrix(0.3675 0 0 0.3605 1182.77 1064.65)" font-size="100">0</text>
<text transform="matrix(0.5085 0 0 0.5276 1081.12 562.50)" font-size="100" font-weight="bold">E</text>
<text transform="matrix(0.3840 0 0 0.3581 1130.70 618.30)" font-size="100">(ng/ml)</text>
<text transform="matrix(0 -0.4123 0.4244 0 1130.60 1060.92)" font-size="100">EPO protein secretion</text>
<clipPath id="k18"><path clip-rule="evenodd" d="M-2000-2000H9000V2000H-2000ZM59.6-11.5H79.6V4H59.6ZM90.7-11.5H109.6V4H90.7Z"/></clipPath>
<text transform="matrix(0.3441 0 0 0.3413 1315.39 672.00)" font-size="100" clip-path="url(#k18)">21% O<tspan font-size="70" dy="21">2</tspan></text>
<text transform="matrix(0.3427 0 0 0.3413 1315.93 716.60)" font-size="100">5% O<tspan font-size="70" dy="21">2</tspan></text>
<clipPath id="k19"><path clip-rule="evenodd" d="M-2000-2000H9000V2000H-2000ZM59.6-11.5H79.6V4H59.6ZM90.7-11.5H109.6V4H90.7Z"/></clipPath>
<text transform="matrix(0.3378 0 0 0.3413 1315.42 759.20)" font-size="100" clip-path="url(#k19)">21% O<tspan font-size="70" dy="21">2</tspan><tspan dy="-21"> + FG4592</tspan></text>
<text transform="matrix(0.3200 0 0 0.2944 1465.70 875.20)" font-size="100" font-weight="bold" style="stroke-width:0.9px">*</text>
<text transform="matrix(0.2503 0 0 0.2473 1555.61 929.50)" font-size="100" font-weight="bold" style="stroke-width:0.9px">#</text>
<text transform="matrix(0.3302 0 0 0.2944 1594.20 822.30)" font-size="100" font-weight="bold" style="stroke-width:0.9px">*</text>
<text transform="matrix(0.2811 0 0 0.2215 1649.54 974.17)" font-size="100" font-weight="bold" style="stroke-width:0.9px">†</text>
<text transform="matrix(0.2428 0 0 0.2473 1688.32 849.50)" font-size="100" font-weight="bold" style="stroke-width:0.9px">#</text>
<text transform="matrix(0.3302 0 0 0.3200 1727.70 719.50)" font-size="100" font-weight="bold" style="stroke-width:0.9px">*</text>
<text transform="matrix(0.3830 0 0 0.3783 1156.70 1108.80)" font-size="100">ATRA</text>
<text transform="matrix(0.3779 0 0 0.3923 1291.42 1109.39)" font-size="100">0</text>
<clipPath id="k20"><path clip-rule="evenodd" d="M-2000-2000H9000V2000H-2000ZM87.4-11.5H107.4V4H87.4ZM118.5-11.5H137.4V4H118.5Z"/></clipPath>
<text transform="matrix(0.3981 0 0 0.3923 1408.76 1109.39)" font-size="100" clip-path="url(#k20)">0.1</text>
<clipPath id="k21"><path clip-rule="evenodd" d="M-2000-2000H9000V2000H-2000ZM4.0-11.5H24.0V4H4.0ZM35.1-11.5H54.0V4H35.1Z"/></clipPath>
<text transform="matrix(0.4097 0 0 0.3940 1556.86 1109.70)" font-size="100" clip-path="url(#k21)">1</text>
<clipPath id="k22"><path clip-rule="evenodd" d="M-2000-2000H9000V2000H-2000ZM4.0-11.5H24.0V4H4.0ZM35.1-11.5H54.0V4H35.1Z"/></clipPath>
<text transform="matrix(0.3751 0 0 0.3923 1677.71 1109.39)" font-size="100" clip-path="url(#k22)">10</text>
<text transform="matrix(0.3111 0 0 0.3022 1746.14 1103.79)" font-size="100">(μM)</text>
<clipPath id="k23"><path clip-rule="evenodd" d="M-2000-2000H9000V2000H-2000ZM4.0-11.5H24.0V4H4.0ZM35.1-11.5H54.0V4H35.1Z"/></clipPath>
<text transform="matrix(0.3675 0 0 0.3605 176.70 1339.55)" font-size="100" clip-path="url(#k23)">1.2</text>
<text transform="matrix(0.3675 0 0 0.3605 176.70 1429.40)" font-size="100">0.9</text>
<text transform="matrix(0.3675 0 0 0.3605 176.70 1519.25)" font-size="100">0.6</text>
<text transform="matrix(0.3675 0 0 0.3605 176.70 1609.10)" font-size="100">0.3</text>
<text transform="matrix(0.3675 0 0 0.3605 206.77 1698.95)" font-size="100">0</text>
<text transform="matrix(0.5294 0 0 0.5490 23.79 1292.20)" font-size="100" font-weight="bold">F</text>
<text transform="matrix(0.3800 0 0 0.3622 154.32 1295.60)" font-size="100">(ng/ml)</text>
<text transform="matrix(0 -0.4087 0.4244 0 102.70 1711.49)" font-size="100">EPO protein secretion</text>
<text transform="matrix(0.2994 0 0 0.2203 560.53 1444.88)" font-size="100" font-weight="bold" style="stroke-width:0.9px">†</text>
<text transform="matrix(0.3131 0 0 0.2215 651.34 1416.07)" font-size="100" font-weight="bold" style="stroke-width:0.9px">†</text>
<text transform="matrix(0.3108 0 0 0.2351 741.26 1376.76)" font-size="100" font-weight="bold" style="stroke-width:0.9px">†</text>
<text transform="matrix(0.4072 0 0 0.4025 120.72 1751.70)" font-size="100">FG4592</text>
<text transform="matrix(0.3679 0 0 0.3951 295.25 1745.08)" font-size="100">0</text>
<text transform="matrix(0.3759 0 0 0.3951 384.53 1745.08)" font-size="100">0</text>
<clipPath id="k24"><path clip-rule="evenodd" d="M-2000-2000H9000V2000H-2000ZM4.0-11.5H24.0V4H4.0ZM35.1-11.5H54.0V4H35.1Z"/></clipPath>
<text transform="matrix(0.4156 0 0 0.3996 474.46 1745.30)" font-size="100" clip-path="url(#k24)">1</text>
<clipPath id="k25"><path clip-rule="evenodd" d="M-2000-2000H9000V2000H-2000ZM4.0-11.5H24.0V4H4.0ZM35.1-11.5H54.0V4H35.1Z"/></clipPath>
<text transform="matrix(0.3721 0 0 0.3951 552.04 1745.08)" font-size="100" clip-path="url(#k25)">10</text>
<text transform="matrix(0.3759 0 0 0.3951 640.53 1745.08)" font-size="100">50</text>
<clipPath id="k26"><path clip-rule="evenodd" d="M-2000-2000H9000V2000H-2000ZM4.0-11.5H24.0V4H4.0ZM35.1-11.5H54.0V4H35.1Z"/></clipPath>
<text transform="matrix(0.3837 0 0 0.3951 718.04 1745.08)" font-size="100" clip-path="url(#k26)">100</text>
<text transform="matrix(0.3820 0 0 0.3609 806.01 1742.10)" font-size="100">(μM)</text>
<clipPath id="k27"><path clip-rule="evenodd" d="M-2000-2000H9000V2000H-2000ZM318.8-11.5H338.8V4H318.8ZM349.9-11.5H368.8V4H349.9Z"/></clipPath>
<text transform="matrix(0.3848 0 0 0.3731 483.20 1816.20)" font-size="100" clip-path="url(#k27)">ATRA (10 μM)</text>
<text transform="matrix(0.3675 0 0 0.3605 1053.44 1286.55)" font-size="100">30</text>
<text transform="matrix(0.3675 0 0 0.3605 1053.44 1431.15)" font-size="100">20</text>
<clipPath id="k28"><path clip-rule="evenodd" d="M-2000-2000H9000V2000H-2000ZM4.0-11.5H24.0V4H4.0ZM35.1-11.5H54.0V4H35.1Z"/></clipPath>
<text transform="matrix(0.3675 0 0 0.3605 1053.44 1575.75)" font-size="100" clip-path="url(#k28)">10</text>
<text transform="matrix(0.3619 0 0 0.3520 1066.77 1730.95)" font-size="100">0</text>
<text transform="matrix(0.5410 0 0 0.5547 895.71 1292.00)" font-size="100" font-weight="bold">G</text>
<text transform="matrix(0 -0.4118 0.4244 0 976.40 1708.92)" font-size="100">EPO protein secretion</text>
<text transform="matrix(0 -0.4136 0.4244 0 1025.30 1736.74)" font-size="100">(fold v.s. DMSO w/o PHI)</text>
<text transform="matrix(0.3174 0 0 0.3328 1184.10 1313.40)" font-size="100" font-weight="bold" style="stroke-width:0.9px">*</text>
<text transform="matrix(0.3020 0 0 0.3226 1359.90 1464.68)" font-size="100" font-weight="bold" style="stroke-width:0.9px">*</text>
<text transform="matrix(0.3020 0 0 0.3174 1542.90 1533.82)" font-size="100" font-weight="bold" style="stroke-width:0.9px">*</text>
<text transform="matrix(0.3174 0 0 0.3200 1723.70 1539.00)" font-size="100" font-weight="bold" style="stroke-width:0.9px">*</text>
<text transform="matrix(0.3622 0 0 0.3698 1550.20 1309.80)" font-size="100">ATRA</text>
<text transform="matrix(0.3676 0 0 0.3698 1548.53 1349.30)" font-size="100">DMSO</text>
<text transform="matrix(0.3781 0 0 0.3622 1091.64 1770.50)" font-size="100">molidustat</text>
<text transform="matrix(0.3774 0 0 0.3622 1288.82 1770.50)" font-size="100">daprodustat</text>
<text transform="matrix(0.3795 0 0 0.3726 1513.74 1770.50)" font-size="100">DFO</text>
<text transform="matrix(0.3854 0 0 0.3726 1648.99 1770.50)" font-size="100">DMOG</text>
<clipPath id="k29"><path clip-rule="evenodd" d="M-2000-2000H9000V2000H-2000ZM4.0-11.5H24.0V4H4.0ZM35.1-11.5H54.0V4H35.1Z"/></clipPath>
<text transform="matrix(0.3675 0 0 0.3605 170.90 1941.25)" font-size="100" clip-path="url(#k29)">1.5</text>
<clipPath id="k30"><path clip-rule="evenodd" d="M-2000-2000H9000V2000H-2000ZM4.0-11.5H24.0V4H4.0ZM35.1-11.5H54.0V4H35.1Z"/></clipPath>
<text transform="matrix(0.3675 0 0 0.3605 204.32 2061.05)" font-size="100" clip-path="url(#k30)">1</text>
<text transform="matrix(0.3675 0 0 0.3605 170.90 2180.75)" font-size="100">0.5</text>
<text transform="matrix(0.3675 0 0 0.3605 200.97 2300.55)" font-size="100">0</text>
<text transform="matrix(0.5423 0 0 0.5490 23.91 1852.60)" font-size="100" font-weight="bold">H</text>
<text transform="matrix(0.3863 0 0 0.3595 167.59 1893.60)" font-size="100">(fold)</text>
<text transform="matrix(0.4835 0 0 0.4821 461.44 1898.80)" font-size="100" font-style="italic">EPO</text>
<text transform="matrix(0.2522 0 0 0.2458 727.61 2126.90)" font-size="100" font-weight="bold" style="stroke-width:0.9px">#</text>
<clipPath id="k31"><path clip-rule="evenodd" d="M-2000-2000H9000V2000H-2000ZM220.7-11.5H240.7V4H220.7ZM251.8-11.5H270.7V4H251.8ZM387.5-11.5H407.5V4H387.5ZM418.6-11.5H437.5V4H418.6Z"/></clipPath>
<text transform="matrix(0.3767 0 0 0.3783 55.40 2348.90)" font-size="100" clip-path="url(#k31)">AGN193109</text>
<text transform="matrix(0.3619 0 0 0.3812 297.97 2346.70)" font-size="100">0</text>
<clipPath id="k32"><path clip-rule="evenodd" d="M-2000-2000H9000V2000H-2000ZM87.4-11.5H107.4V4H87.4ZM118.5-11.5H137.4V4H118.5Z"/></clipPath>
<text transform="matrix(0.4060 0 0 0.3812 388.83 2346.70)" font-size="100" clip-path="url(#k32)">0.1</text>
<clipPath id="k33"><path clip-rule="evenodd" d="M-2000-2000H9000V2000H-2000ZM4.0-11.5H24.0V4H4.0ZM35.1-11.5H54.0V4H35.1Z"/></clipPath>
<text transform="matrix(0.4053 0 0 0.3897 512.71 2347.20)" font-size="100" clip-path="url(#k33)">1</text>
<clipPath id="k34"><path clip-rule="evenodd" d="M-2000-2000H9000V2000H-2000ZM4.0-11.5H24.0V4H4.0ZM35.1-11.5H54.0V4H35.1Z"/></clipPath>
<text transform="matrix(0.3591 0 0 0.3812 608.95 2346.70)" font-size="100" clip-path="url(#k34)">10</text>
<text transform="matrix(0.3740 0 0 0.3812 714.93 2346.70)" font-size="100">50</text>
<text transform="matrix(0.3825 0 0 0.3767 778.71 2345.06)" font-size="100">(μM)</text>
<clipPath id="k35"><path clip-rule="evenodd" d="M-2000-2000H9000V2000H-2000ZM318.8-11.5H338.8V4H318.8ZM349.9-11.5H368.8V4H349.9Z"/></clipPath>
<text transform="matrix(0.3858 0 0 0.3717 419.50 2409.80)" font-size="100" clip-path="url(#k35)">ATRA (10 μM)</text>
<clipPath id="k36"><path clip-rule="evenodd" d="M-2000-2000H9000V2000H-2000ZM4.0-11.5H24.0V4H4.0ZM35.1-11.5H54.0V4H35.1Z"/></clipPath>
<text transform="matrix(0.3675 0 0 0.3605 1057.64 1937.25)" font-size="100" clip-path="url(#k36)">10</text>
<text transform="matrix(0.3675 0 0 0.3605 1078.65 2009.25)" font-size="100">8</text>
<text transform="matrix(0.3675 0 0 0.3605 1078.65 2081.25)" font-size="100">6</text>
<text transform="matrix(0.3675 0 0 0.3605 1078.07 2153.15)" font-size="100">4</text>
<text transform="matrix(0.3675 0 0 0.3605 1078.65 2225.15)" font-size="100">2</text>
<text transform="matrix(0.3675 0 0 0.3605 1078.07 2297.15)" font-size="100">0</text>
<text transform="matrix(0.4988 0 0 0.5490 895.38 1852.60)" font-size="100" font-weight="bold">I</text>
<text transform="matrix(0.3810 0 0 0.3745 1023.81 1878.60)" font-size="100">(ng/ml)</text>
<text transform="matrix(0 -0.4109 0.4244 0 1007.60 2270.71)" font-size="100">EPO protein secretion</text>
<text transform="matrix(0.2654 0 0 0.2415 1507.29 2080.90)" font-size="100" font-weight="bold" style="stroke-width:0.9px">#</text>
<text transform="matrix(0.2597 0 0 0.2473 1614.29 2120.60)" font-size="100" font-weight="bold" style="stroke-width:0.9px">#</text>
<clipPath id="k37"><path clip-rule="evenodd" d="M-2000-2000H9000V2000H-2000ZM220.7-11.5H240.7V4H220.7ZM251.8-11.5H270.7V4H251.8ZM387.5-11.5H407.5V4H387.5ZM418.6-11.5H437.5V4H418.6Z"/></clipPath>
<text transform="matrix(0.3763 0 0 0.3783 935.40 2349.00)" font-size="100" clip-path="url(#k37)">AGN193109</text>
<text transform="matrix(0.3699 0 0 0.3854 1175.94 2342.30)" font-size="100">0</text>
<clipPath id="k38"><path clip-rule="evenodd" d="M-2000-2000H9000V2000H-2000ZM87.4-11.5H107.4V4H87.4ZM118.5-11.5H137.4V4H118.5Z"/></clipPath>
<text transform="matrix(0.3981 0 0 0.3854 1269.76 2342.30)" font-size="100" clip-path="url(#k38)">0.1</text>
<clipPath id="k39"><path clip-rule="evenodd" d="M-2000-2000H9000V2000H-2000ZM4.0-11.5H24.0V4H4.0ZM35.1-11.5H54.0V4H35.1Z"/></clipPath>
<text transform="matrix(0.4082 0 0 0.3925 1396.51 2342.80)" font-size="100" clip-path="url(#k39)">1</text>
<clipPath id="k40"><path clip-rule="evenodd" d="M-2000-2000H9000V2000H-2000ZM4.0-11.5H24.0V4H4.0ZM35.1-11.5H54.0V4H35.1Z"/></clipPath>
<text transform="matrix(0.3701 0 0 0.3854 1492.25 2342.30)" font-size="100" clip-path="url(#k40)">10</text>
<text transform="matrix(0.3806 0 0 0.3854 1601.11 2342.30)" font-size="100">50</text>
<text transform="matrix(0.3865 0 0 0.3871 1664.49 2340.23)" font-size="100">(μM)</text>
<clipPath id="k41"><path clip-rule="evenodd" d="M-2000-2000H9000V2000H-2000ZM318.8-11.5H338.8V4H318.8ZM349.9-11.5H368.8V4H349.9Z"/></clipPath>
<text transform="matrix(0.3874 0 0 0.3717 1298.50 2412.30)" font-size="100" clip-path="url(#k41)">ATRA (10 μM)</text>
</svg>
</body>
</html>
